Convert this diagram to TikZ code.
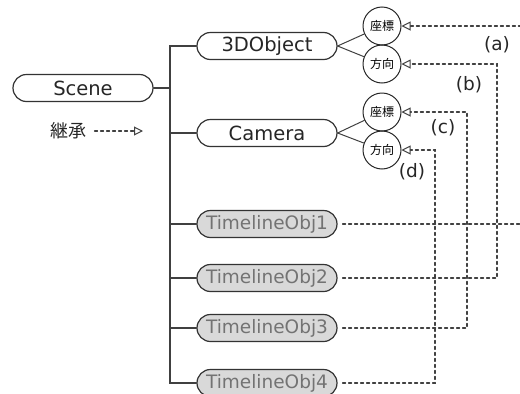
\documentclass[tikz,border=0pt]{standalone}
\usepackage{fontspec}
\setmainfont{DejaVu Sans}
\newfontfamily\cjk{Noto Sans CJK JP}
\usetikzlibrary{shapes.misc,arrows.meta}
\begin{document}
\begin{tikzpicture}[x=1pt,y=-1pt,line cap=round]
        % Styles
        \tikzstyle{pill}=[rounded rectangle,draw=black!80,line width=1.2pt,minimum width=140pt,minimum height=27pt,inner sep=0pt,text=black!85,font=\fontsize{19.5}{21}\selectfont]
        \tikzstyle{timeline}=[pill,fill=black!15,text=black!55,font=\fontsize{18.5}{20}\selectfont]
        \tikzstyle{member}=[circle,draw=black!85,line width=1pt,minimum size=38pt,inner sep=0pt,font=\cjk\fontsize{12}{13}\selectfont]
        \tikzstyle{tree line}=[draw=black!75,line width=1.2pt]
        \tikzstyle{inherit}=[draw=black!75,line width=1.1pt,dash pattern=on 3pt off 3pt,-{Triangle[open,length=9pt,width=9pt,line width=1pt]}]
        \tikzstyle{link label}=[font=\fontsize{18.5}{20}\selectfont,text=black!85]
        \useasboundingbox (0,0) rectangle (520,394);
        %nodes
        \node[pill] (scene) at (83,88) {Scene};
        \node[pill] (object) at (267,46) {3DObject};
        \node[pill] (camera) at (267,133) {Camera};
        \foreach \i/\y in {1/224,2/278,3/328,4/383}
            \node[timeline] (tl\i) at (267,\y) {TimelineObj\i};
        \node[member] (objpos) at (382,26) {座標};
        \node[member] (objdir) at (382,64) {方向};
        \node[member] (campos) at (382,112) {座標};
        \node[member] (camdir) at (382,150) {方向};
        %legend
        \node[font=\cjk\fontsize{18}{20}\selectfont,text=black!85] (legend) at (68,131) {継承};
        \coordinate (legend end) at (143,131);
        \draw[inherit] (legend.east) ++(5,0) -- (legend end);
        %tree
        \coordinate (trunk) at (170,0);
        \draw[tree line] (object.west) -- (object.west -| trunk) -- (tl4.west -| trunk) -- (tl4.west);
        \draw[tree line] (scene.east) -- (scene.east -| trunk);
        \foreach \n in {camera,tl1,tl2,tl3}
            \draw[tree line] (\n.west) -- (\n.west -| trunk);
        \foreach \n/\m in {object/objpos,object/objdir,camera/campos,camera/camdir}
            \draw[tree line,line width=1pt] (\n.east) -- (\m);
        %inheritance links
        \coordinate (a) at (540,0);
        \coordinate (b) at (497,0);
        \coordinate (c) at (467,0);
        \coordinate (d) at (435,0);
        \draw[inherit,shorten <=5pt] (tl1.east) -| (a |- objpos.east) -- (objpos.east);
        \draw[inherit,shorten <=5pt] (tl2.east) -| (b |- objdir.east) -- (objdir.east);
        \draw[inherit,shorten <=5pt] (tl3.east) -| (c |- campos.east) -- (campos.east);
        \draw[inherit,shorten <=5pt] (tl4.east) -| (d |- camdir.east) -- (camdir.east);
        \node[link label] (la) at (497,45) {(a)};
        \node[link label] (lb) at (469,85) {(b)};
        \node[link label] (lc) at (443,128) {(c)};
        \node[link label] (ld) at (412,172) {(d)};
    \end{tikzpicture}
\end{document}
